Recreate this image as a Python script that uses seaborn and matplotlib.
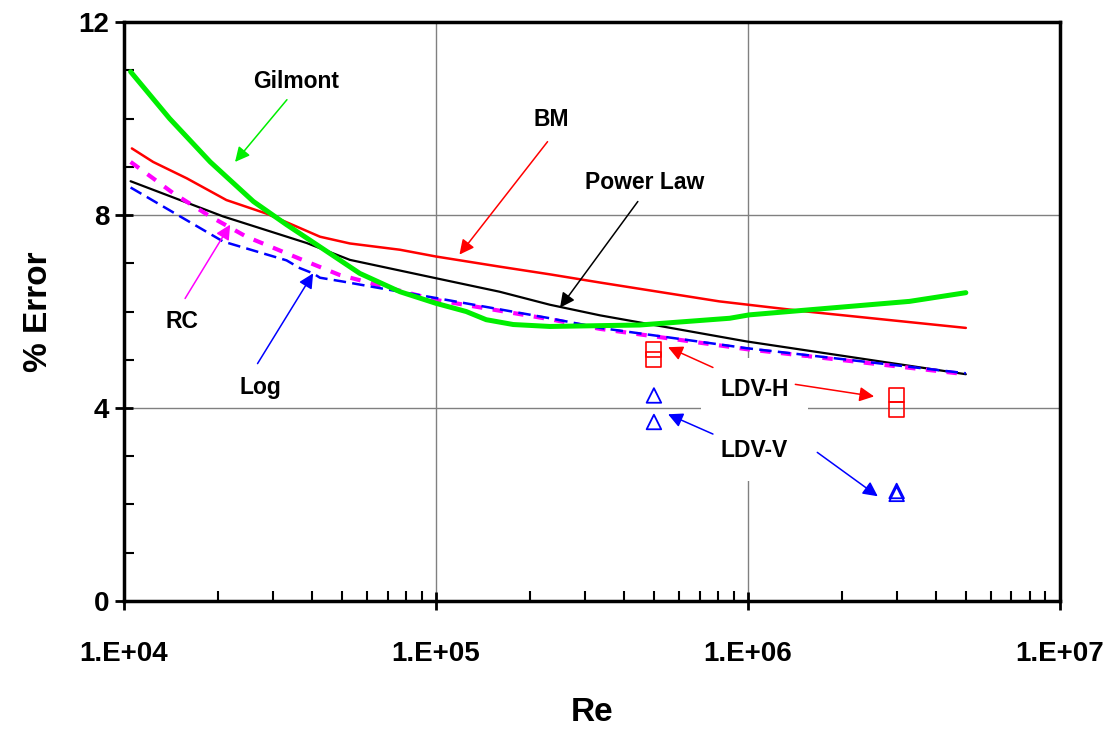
import numpy as np
import pandas as pd
import matplotlib
matplotlib.use("Agg")
import matplotlib.pyplot as plt
import matplotlib.ticker as mticker
import seaborn as sns

sns.set_style("white")
plt.rcParams['font.family'] = ['Liberation Sans', 'DejaVu Sans']
plt.rcParams['text.color'] = 'black'
plt.rcParams['axes.labelcolor'] = 'black'
plt.rcParams['xtick.color'] = 'black'
plt.rcParams['ytick.color'] = 'black'

# curves (Re, % error)
bm_re = [1.06e4, 1.24e4, 1.59e4, 2.13e4, 2.86e4, 3.49e4, 4.25e4, 5.3e4, 7.67e4, 1e5, 1.6e5, 2.32e5,
         3.36e5, 8.1e5, 1.54e6, 5e6]
bm_err = [9.38, 9.10, 8.76, 8.31, 8.03, 7.79, 7.55, 7.41, 7.28, 7.14, 6.93, 6.77,
          6.60, 6.21, 6.00, 5.66]

gil_re = [1.05e4, 1.40e4, 1.89e4, 2.6e4, 3.32e4, 4.25e4, 5.7e4, 7.67e4, 1e5, 1.25e5, 1.45e5, 1.77e5,
          2.32e5, 4.5e5, 8.75e5, 1.01e6, 3.3e6, 5e6]
gil_err = [10.97, 10.0, 9.10, 8.28, 7.80, 7.34, 6.79, 6.41, 6.17, 6.00, 5.83, 5.73,
           5.69, 5.72, 5.86, 5.93, 6.21, 6.39]

pow_re = [1.05e4, 2.08e4, 3.85e4, 5.3e4, 1e5, 1.6e5, 2.32e5, 3.36e5, 9.9e5, 5e6]
pow_err = [8.70, 7.97, 7.42, 7.07, 6.69, 6.41, 6.14, 5.92, 5.38, 4.70]

log_re = [1.05e4, 2.08e4, 3.32e4, 3.66e4, 4.04e4, 4.25e4, 5.04e4, 7.67e4, 1e5, 2.32e5, 3.36e5, 9.9e5, 5e6]
log_err = [8.57, 7.45, 7.06, 6.90, 6.79, 6.70, 6.62, 6.41, 6.28, 5.86, 5.66, 5.24, 4.72]

rc_re = [1.05e4, 1.24e4, 1.44e4, 1.65e4, 1.89e4, 2.47e4, 2.86e4, 3.7e4, 4.9e4, 7.67e4, 1e5, 2.32e5,
         3.36e5, 9.9e5, 5e6]
rc_err = [9.10, 8.76, 8.45, 8.21, 7.97, 7.55, 7.38, 7.08, 6.76, 6.43, 6.24, 5.84,
          5.64, 5.22, 4.70]

# LDV measurements
ldvh_re = [5e5, 5e5, 3e6, 3e6]
ldvh_err = [5.21, 5.01, 4.27, 3.97]
ldvv_re = [5e5, 5e5, 3e6, 3e6]
ldvv_err = [4.26, 3.71, 2.28, 2.22]

fig = plt.figure(figsize=(11.12, 7.29), dpi=100)
ax = fig.add_axes([0.1115, 0.1756, 0.8415, 0.7942])

sns.lineplot(x=pow_re, y=pow_err, ax=ax, color='black', lw=1.6, sort=False, estimator=None, zorder=3)
sns.lineplot(x=rc_re, y=rc_err, ax=ax, color='#FF00FF', lw=3.0, linestyle=(0, (2.5, 2.5)),
             sort=False, estimator=None, zorder=3)
sns.lineplot(x=log_re, y=log_err, ax=ax, color='#0000FF', lw=1.8, linestyle=(0, (5, 2.5)),
             sort=False, estimator=None, zorder=4)
sns.lineplot(x=bm_re, y=bm_err, ax=ax, color='#FF0000', lw=1.8, sort=False, estimator=None, zorder=4)
sns.lineplot(x=gil_re, y=gil_err, ax=ax, color='#00EE00', lw=3.6, sort=False, estimator=None, zorder=5)

sns.scatterplot(x=ldvh_re, y=ldvh_err, ax=ax, marker='s', s=115, facecolor='none',
                edgecolor='#FF0000', linewidth=1.2, zorder=6)
sns.scatterplot(x=ldvv_re, y=ldvv_err, ax=ax, marker='^', s=110, facecolor='none',
                edgecolor='#0000FF', linewidth=1.3, zorder=6)

ax.set_xscale('log')
ax.set_xlim(1e4, 1e7)
ax.set_ylim(0, 12)
ax.xaxis.set_major_locator(mticker.FixedLocator([1e4, 1e5, 1e6, 1e7]))
ax.xaxis.set_major_formatter(mticker.FixedFormatter(['1.E+04', '1.E+05', '1.E+06', '1.E+07']))
ax.xaxis.set_minor_locator(mticker.LogLocator(base=10, subs=np.arange(2, 10)))
ax.xaxis.set_minor_formatter(mticker.NullFormatter())
ax.yaxis.set_major_locator(mticker.FixedLocator([0, 4, 8, 12]))
ax.yaxis.set_minor_locator(mticker.MultipleLocator(1))

ax.grid(True, which='major', color='#808080', lw=1.0)
ax.set_axisbelow(True)
for s in ax.spines.values():
    s.set_linewidth(2.5)
    s.set_color('black')

ax.tick_params(axis='both', which='both', bottom=True, left=True, top=False, right=False)
ax.tick_params(axis='both', which='major', direction='inout', length=13, width=2,
               labelsize=20, pad=4)
ax.tick_params(axis='both', which='minor', direction='in', length=7, width=1.5)
ax.tick_params(axis='x', which='major', pad=22)
for lab in ax.get_xticklabels() + ax.get_yticklabels():
    lab.set_fontweight('bold')

ax.set_xlabel('Re', fontsize=24, fontweight='bold', labelpad=22)
ax.set_ylabel('% Error', fontsize=24, fontweight='bold', labelpad=18)

tk = dict(fontsize=16.5, fontweight='bold', ha='center', va='center', color='black')


def arrow(tail, head, color):
    ax.annotate('', xy=head, xytext=tail, zorder=7,
                arrowprops=dict(arrowstyle='-|>', color=color, lw=1.1,
                                mutation_scale=22, shrinkA=0, shrinkB=0))


ax.text(3.56e4, 10.76, 'Gilmont', zorder=7, **tk)
arrow((3.33e4, 10.39), (2.27e4, 9.10), '#00EE00')
ax.text(2.34e5, 9.97, 'BM', zorder=7, **tk)
arrow((2.28e5, 9.52), (1.19e5, 7.18), '#FF0000')
ax.text(4.68e5, 8.67, 'Power Law', zorder=7, **tk)
arrow((4.44e5, 8.28), (2.5e5, 6.08), 'black')
ax.text(1.53e4, 5.79, 'RC', zorder=7, **tk)
arrow((1.57e4, 6.27), (2.19e4, 7.80), '#FF00FF')
ax.text(2.73e4, 4.43, 'Log', zorder=7, **tk)
arrow((2.68e4, 4.92), (4.04e4, 6.79), '#0000FF')

box = dict(boxstyle='square,pad=0.85', fc='white', ec='none')
ax.text(1.05e6, 4.39, 'LDV-H', zorder=6.5, bbox=box, **tk)
ax.text(1.05e6, 3.12, 'LDV-V', zorder=6.5, bbox=box, **tk)
arrow((7.73e5, 4.84), (5.55e5, 5.26), '#FF0000')
arrow((1.42e6, 4.49), (2.54e6, 4.24), '#FF0000')
arrow((7.73e5, 3.46), (5.55e5, 3.87), '#0000FF')
arrow((1.67e6, 3.08), (2.61e6, 2.17), '#0000FF')

fig.savefig('out.png', dpi=100)
